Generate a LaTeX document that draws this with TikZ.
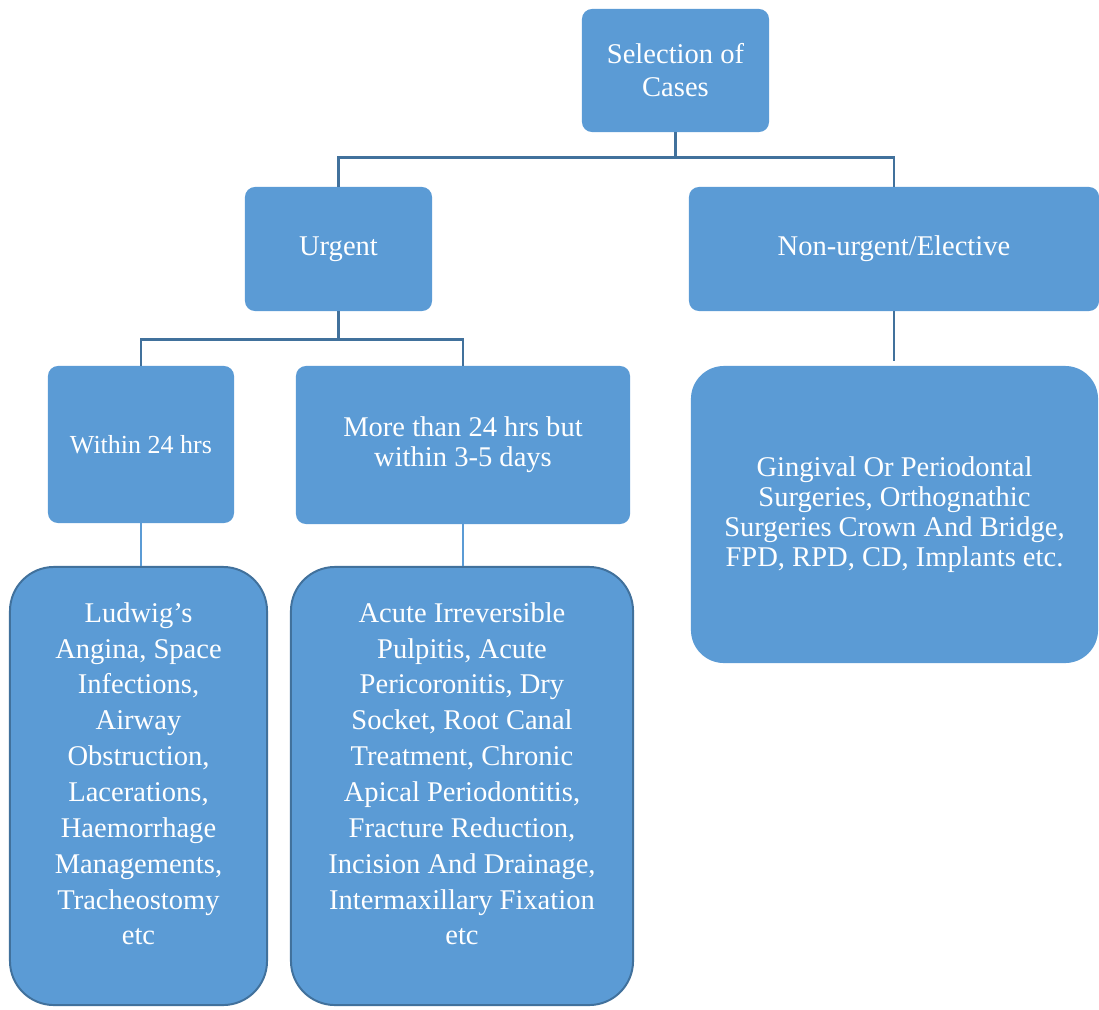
\documentclass[tikz,border=0pt]{standalone}
\usepackage{fontspec}
\setmainfont{Liberation Serif}
\usetikzlibrary{positioning,calc}
\definecolor{cellblue}{HTML}{5B9BD5}
\definecolor{edgeblue}{HTML}{41719C}
\tikzset{
  box/.style  ={fill=cellblue,text=white,align=center,inner sep=2pt,
                rounded corners=0.25cm,font=\fontsize{20.3}{23.5}\selectfont},
  snug/.style ={box,font=\fontsize{20.3}{21.3}\selectfont},
  tall/.style ={box,draw=edgeblue,line width=1.4pt,rounded corners=1.1cm,
                font=\fontsize{20.3}{25.5}\selectfont},
  link/.style ={draw=edgeblue,line width=2.1pt},
  thin/.style ={draw=cellblue,line width=0.8pt},
}

\begin{document}
\begin{tikzpicture}[x=0.025cm,y=-0.025cm]
  \useasboundingbox (0,0) rectangle (1099,1009);

  % top level
  \node[box,minimum width=4.675cm,minimum height=3.075cm] (sel) at (675.5,70.5)
    {Selection of\\Cases};

  % second level
  \node[box,minimum width=4.675cm,minimum height=3.1cm] (urg) at (338.5,249)
    {Urgent};
  \node[box,minimum width=10.25cm,minimum height=3.1cm] (elect) at (894,249)
    {Non-urgent/Elective};

  % third level
  \node[box,minimum width=4.65cm,minimum height=3.925cm,
        font=\fontsize{18.5}{21}\selectfont] (day) at (141,444.5)
    {Within 24 hrs};
  \node[snug,minimum width=8.35cm,minimum height=3.95cm] (days) at (463,445)
    {More than 24 hrs but\\within 3-5 days};
  \node[snug,minimum width=10.175cm,minimum height=7.425cm,
        rounded corners=0.825cm] (elist) at (894.5,514.5)
    {Gingival Or Periodontal\\Surgeries, Orthognathic\\Surgeries Crown And Bridge,\\FPD, RPD, CD, Implants etc.};

  % case lists
  \node[tall,minimum width=6.425cm,minimum height=10.95cm] (daylist) at (138.5,786)
    {Ludwig’s\\Angina, Space\\Infections,\\Airway\\Obstruction,\\Lacerations,\\Haemorrhage\\Managements,\\Tracheostomy\\etc\\[-8pt]};
  \node[tall,minimum width=8.55cm,minimum height=10.95cm] (dayslist) at (462,786)
    {Acute Irreversible\\Pulpitis, Acute\\Pericoronitis, Dry\\Socket, Root Canal\\Treatment, Chronic\\Apical Periodontitis,\\Fracture Reduction,\\Incision And Drainage,\\Intermaxillary Fixation\\etc\\[-8pt]};

  % connectors
  \coordinate (fork1) at ($(sel.south)+(0,25)$);
  \coordinate (fork2) at ($(urg.south)+(0,28)$);
  \draw[link] (sel.south) -- (fork1) -| (urg.north);
  \draw[link] (fork1) -| (elect.north);
  \draw[link] (urg.south) -- (fork2) -| (day.north);
  \draw[link] (fork2) -| (days.north);
  \draw[link,shorten >=3pt] (elect.south) -- (elect.south |- elist.north);
  \draw[thin] (day.south) -- (day.south |- daylist.north);
  \draw[thin] (days.south) -- (days.south |- dayslist.north);
\end{tikzpicture}
\end{document}
